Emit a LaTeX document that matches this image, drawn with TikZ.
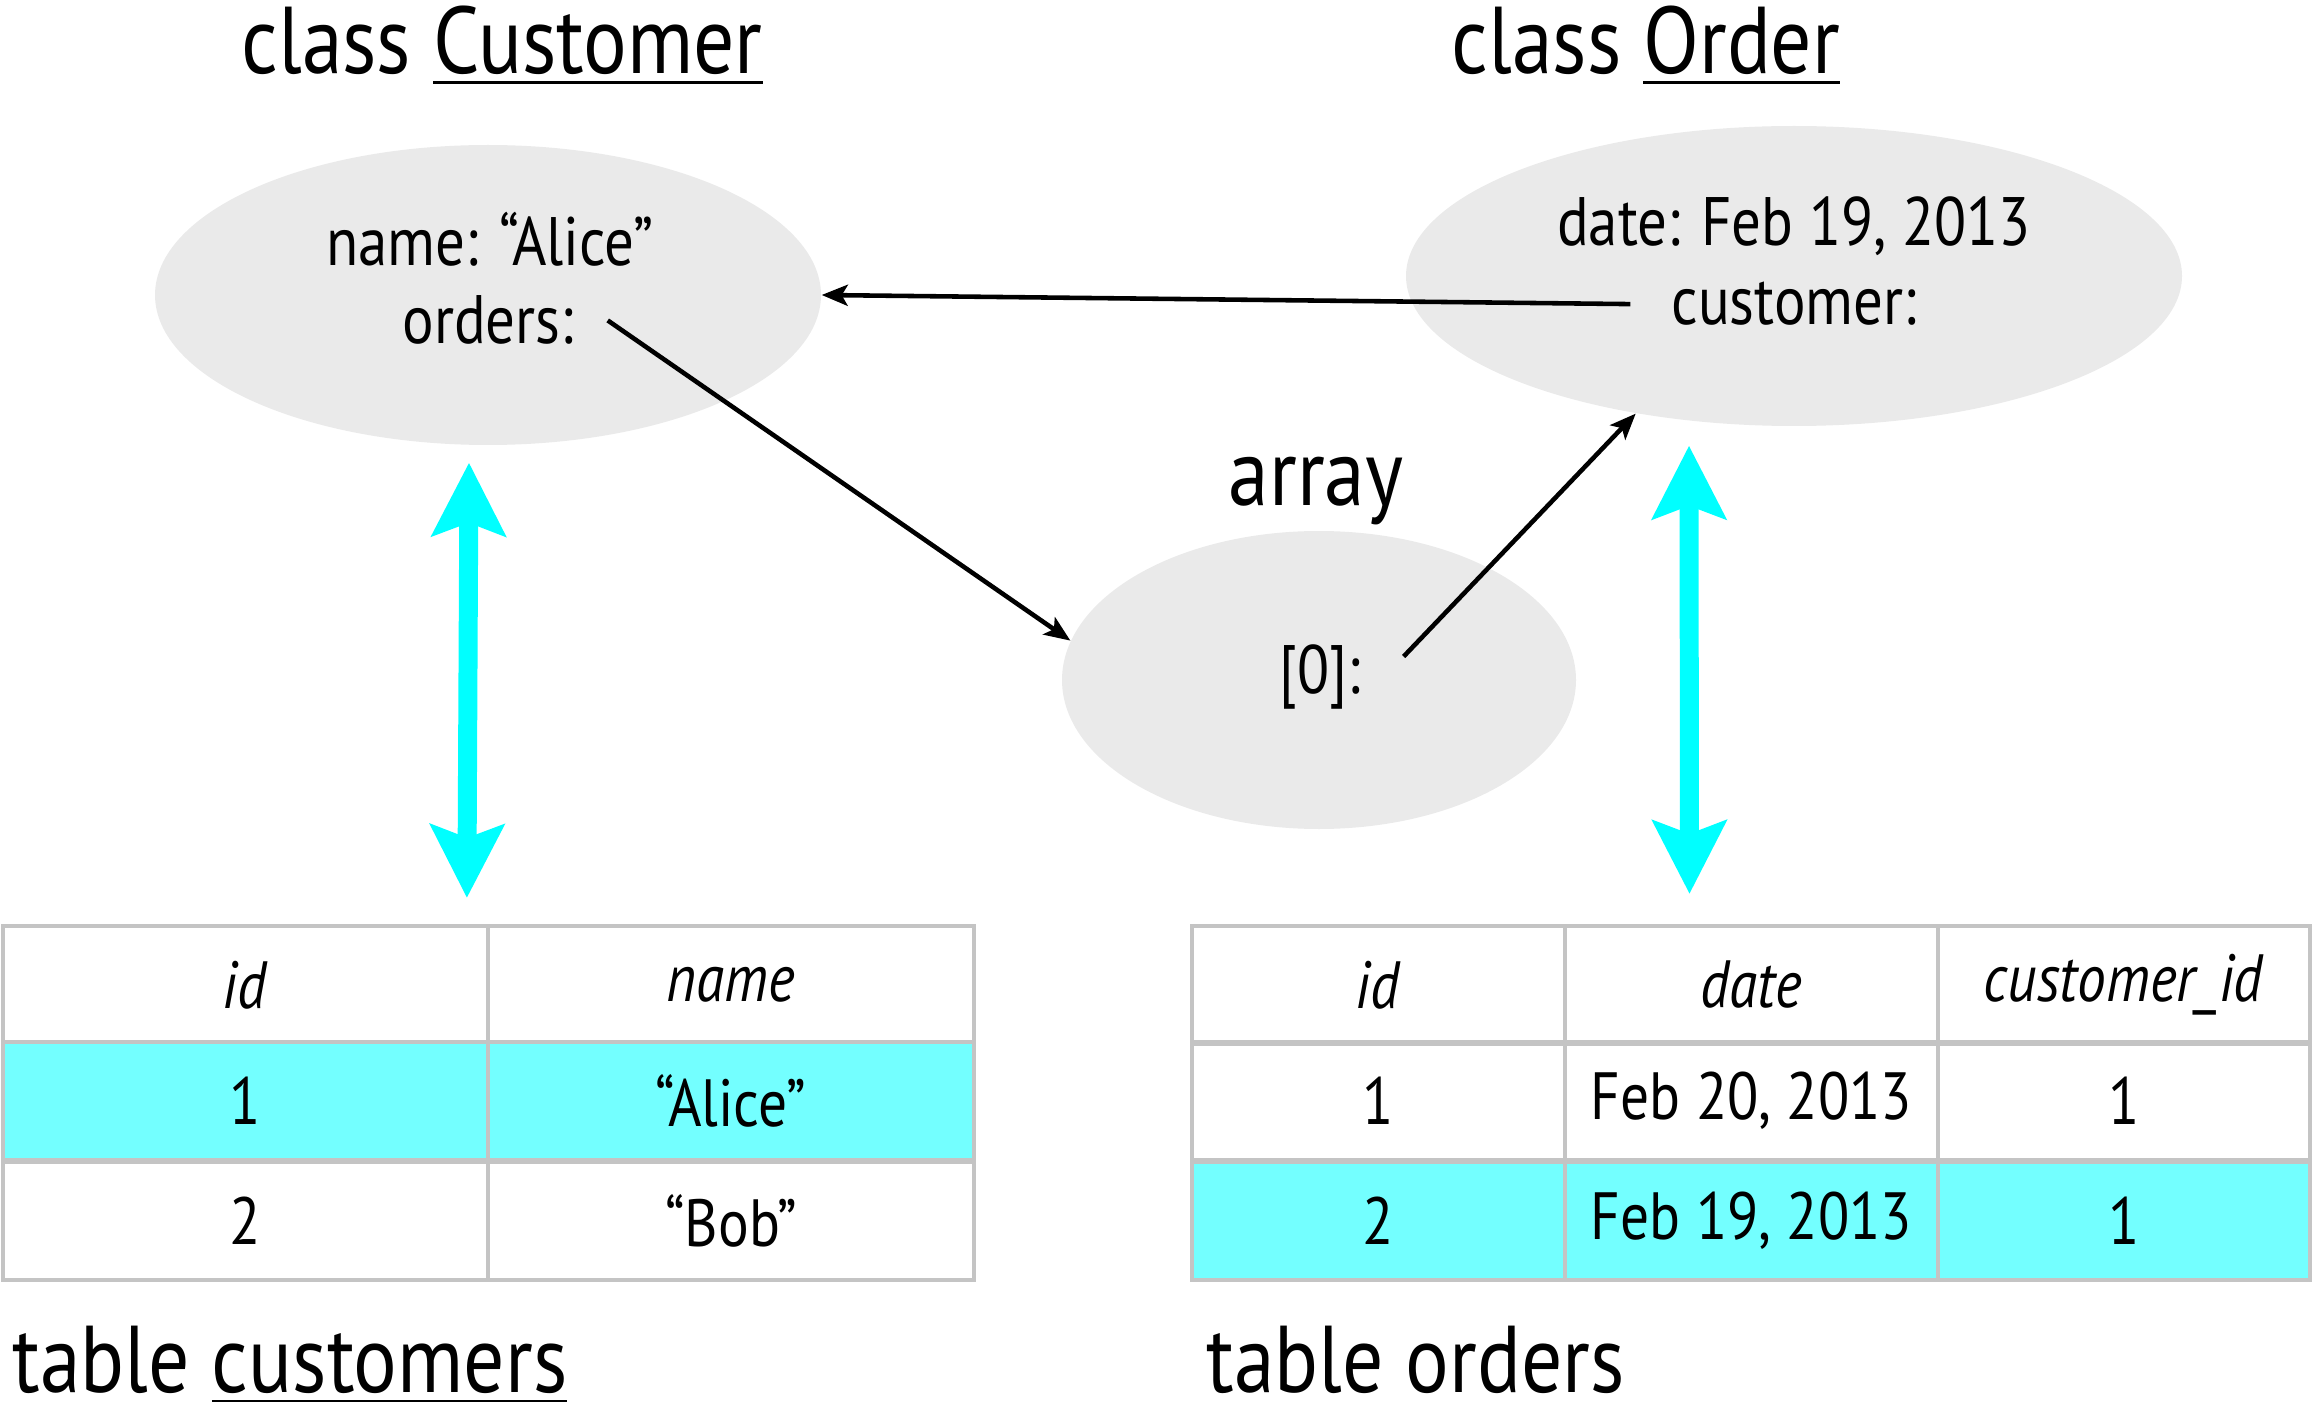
\documentclass[tikz,border=0pt]{standalone}
\usepackage{fontspec}
\setmainfont[FakeStretch=0.86]{PT Sans}
\usetikzlibrary{arrows.meta,shapes.geometric}
\definecolor{objgray}{HTML}{EAEAEA}
\definecolor{linkcyan}{HTML}{00FFFF}
\definecolor{rowcyan}{HTML}{73FFFF}
\definecolor{gridgray}{HTML}{C4C4C4}
% thin rule close under the baseline
\newcommand{\ulined}[1]{\setbox0\hbox{#1}\rlap{\rule[-1mm]{\wd0}{0.25mm}}\box0}
\tikzset{%
  object/.style = {ellipse, fill=objgray, inner sep=0pt},%
  field/.style  = {font=\fontsize{19.5}{22}\selectfont, inner sep=1pt},%
  title/.style  = {font=\fontsize{27}{30}\selectfont, inner sep=0pt},%
  cell/.style   = {rectangle, draw=gridgray, line width=1.2pt,%
                   minimum height=11.8mm, font=\fontsize{19}{22}\selectfont},%
  hit/.style    = {cell, fill=rowcyan},%
  ref/.style    = {-{Stealth[length=2.6mm,width=2.1mm,inset=0.6mm]}, line width=1.3pt},%
  maps/.style   = {{Stealth[length=7.3mm,width=7.3mm,inset=1.3mm]}-{Stealth[length=7.3mm,width=7.3mm,inset=1.3mm]},%
                   draw=linkcyan, line width=5.4pt}%
}

\begin{document}
\begin{tikzpicture}[x=0.1mm,y=-0.1mm]
	\useasboundingbox (0,0) rectangle (2313,1408);
	% objects in memory
	\node[title, anchor=base] (ctitle) at (502,74) {class \ulined{Customer}};
	\node[title, anchor=base] (otitle) at (1646,74) {class \ulined{Order}};
	\node[object, minimum width=66.6mm, minimum height=30mm] (customer) at (488,295) {};
	\node[object, minimum width=77.6mm, minimum height=30mm] (order) at (1794,276) {};
	\node[object, minimum width=51.4mm, minimum height=29.8mm] (array) at (1319,680) {};
	\node[title, anchor=base] (atitle) at (1316,506) {array};
	\node[field, anchor=base] (name) at (490,266) {name: “Alice”};
	\node[field, anchor=base] (orders) at (488,344) {orders:};
	\node[field, anchor=base] (date) at (1794,246) {date: Feb 19, 2013};
	\node[field, anchor=base] (cust) at (1794,325) {customer:};
	\node[field, anchor=base] (zero) at (1320,693) {[0]:};
	\draw[ref] ([xshift=3mm]orders.east) -- (array.171);
	\draw[ref] ([xshift=-3.7mm]cust.west) -- (customer.east);
	\draw[ref] ([shift={(3.9mm,2mm)}]zero.east) -- (order.221);
	% table customers
	\node[cell, minimum width=48.5mm] (cid) at (245.5,985) {\textit{id}};
	\node[cell, minimum width=48.6mm] (cname) at (731,985) {\textit{name}};
	\node[hit, minimum width=48.5mm] (cid1) at (245.5,1101) {1};
	\node[hit, minimum width=48.6mm] (cname1) at (731,1101) {“Alice”};
	\node[cell, minimum width=48.5mm] (cid2) at (245.5,1221) {2};
	\node[cell, minimum width=48.6mm] (cname2) at (731,1221) {“Bob”};
	\node[title, anchor=base west] (ctable) at (12,1392) {table \ulined{customers}};
	% table orders
	\node[cell, minimum width=37.3mm] (oid) at (1378.5,985) {\textit{id}};
	\node[cell, minimum width=37.3mm] (odate) at (1751.5,985) {\textit{date}};
	\node[cell, minimum width=37.2mm] (ocust) at (2124,985) {\textit{customer\_id}};
	\node[cell, minimum width=37.3mm] (oid1) at (1378.5,1101) {1};
	\node[cell, minimum width=37.3mm] (odate1) at (1751.5,1101) {Feb 20, 2013};
	\node[cell, minimum width=37.2mm] (ocust1) at (2124,1101) {1};
	\node[hit, minimum width=37.3mm] (oid2) at (1378.5,1221) {2};
	\node[hit, minimum width=37.3mm] (odate2) at (1751.5,1221) {Feb 19, 2013};
	\node[hit, minimum width=37.2mm] (ocust2) at (2124,1221) {1};
	\node[title, anchor=base west] (otable) at (1206,1392) {table orders};
	% object <-> row
	\draw[maps] ([xshift=-1.9mm,yshift=-1.7mm]customer.south) -- ([xshift=-1.9mm,yshift=2.6mm]cname.north west);
	\draw[maps] ([xshift=-10.5mm,yshift=-1.9mm]order.south) -- ([xshift=-6.2mm,yshift=3mm]odate.north);
\end{tikzpicture}
\end{document}
